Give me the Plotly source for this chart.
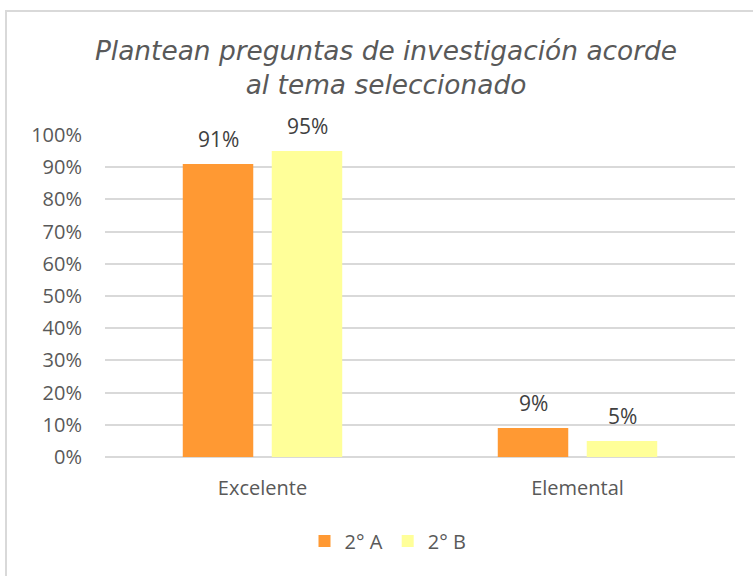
import plotly.graph_objects as go

categories = ["Excelente", "Elemental"]
serie_a = [0.91, 0.09]
serie_b = [0.95, 0.05]
series_names = ["2° A", "2° B"]
tick_vals = [i / 10 for i in range(11)]
tick_text = [f"{i*10}%" for i in range(11)]

W, H = 753, 576
L, R, T, B = 105, 18, 135, 119
pw, ph = W - L - R, H - T - B

LABEL_FONT = "Open Sans, DejaVu Sans, Arial"

fig = go.Figure()
for name, vals, color in [(series_names[0], serie_a, "#FF9933"), (series_names[1], serie_b, "#FFFF99")]:
    fig.add_trace(go.Bar(
        x=categories, y=vals, name=name, marker=dict(color=color, line=dict(width=0)),
    ))

for vals, xs in [(serie_a, -44.5), (serie_b, 44.5)]:
    for c, v in zip(categories, vals):
        fig.add_annotation(x=c, y=v, xref="x", yref="y", text=f"{round(v*100)}%",
                           showarrow=False, xanchor="center", yanchor="bottom",
                           xshift=xs, yshift=9,
                           font=dict(size=21, color="#404040", family=LABEL_FONT))

fig.update_layout(
    width=W, height=H,
    margin=dict(l=L, r=R, t=T, b=B),
    paper_bgcolor="white", plot_bgcolor="white",
    barmode="group", bargap=0.435, bargroupgap=0.208,
    title=dict(
        text="<i>Plantean preguntas de investigación acorde<br>al tema seleccionado</i>",
        x=386 / W, xanchor="center", y=1 - 60 / H, yanchor="middle",
        font=dict(size=26.4, color="#595959", family="DejaVu Sans, Arial"),
    ),
    font=dict(family=LABEL_FONT, color="#595959"),
    xaxis=dict(showgrid=False, showline=False, ticks="", tickfont=dict(size=20, color="#595959"),
               ticklabelstandoff=17),
    yaxis=dict(range=[0, 1.0], tickvals=tick_vals, ticktext=tick_text, showgrid=True,
               gridcolor="#D9D9D9", gridwidth=1.5, zeroline=True, zerolinecolor="#D9D9D9",
               zerolinewidth=1.5, tickfont=dict(size=20, color="#595959"), ticklabelstandoff=22,
               fixedrange=True),
    legend=dict(orientation="h", x=(388 - L) / pw, xanchor="center", y=-(541 - T - ph) / ph,
                yanchor="middle", font=dict(size=20, color="#595959"), itemwidth=30,
                traceorder="normal"),
    showlegend=True,
)

fig.add_shape(type="rect", xref="paper", yref="paper",
              x0=(6 - L) / pw, x1=(W + 30 - L) / pw, y0=-(H + 30 - T - ph) / ph, y1=(H - 11 - B) / ph,
              line=dict(color="#D9D9D9", width=2), fillcolor="rgba(0,0,0,0)", layer="below")

fig.write_html("out.html", config={"displayModeBar": False},
               post_script="document.body.style.margin='0';document.body.style.overflow='hidden';")
